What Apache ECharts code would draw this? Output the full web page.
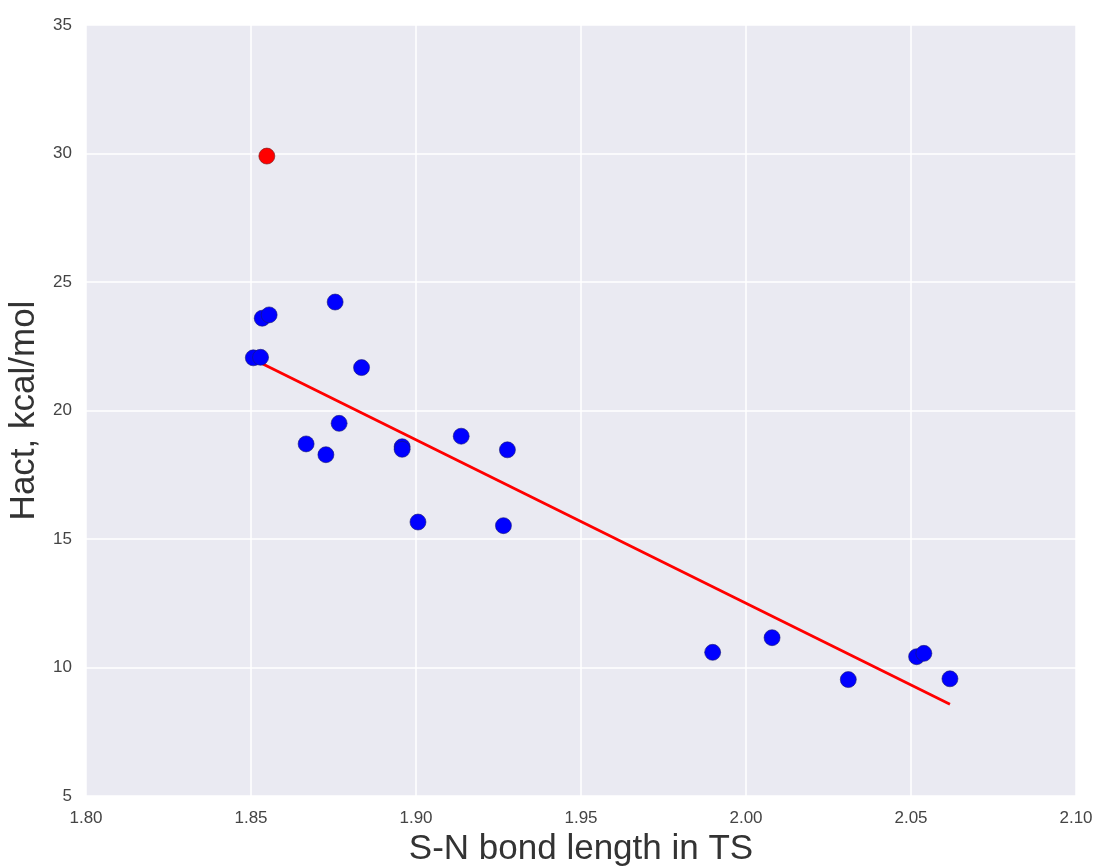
<!DOCTYPE html>
<html>
<head>
<meta charset="utf-8">
<script src="https://cdn.jsdelivr.net/npm/echarts@6/dist/echarts.min.js"></script>
<style>
  html, body { margin: 0; padding: 0; background: #fff; }
  #chart { width: 1099px; height: 866px; }
</style>
</head>
<body>
<div id="chart"></div>
<script>
// bond length (x) vs activation enthalpy (y)
const bondLength = [1.8534, 1.8555, 1.8755, 1.8507, 1.8529, 1.8835, 1.8767, 1.8667, 1.8727,
  1.8958, 1.8958, 1.9137, 1.9277, 1.9006, 1.9265, 1.9899, 2.0079, 2.0310, 2.0517, 2.0539, 2.0618];
const hact = [23.59, 23.72, 24.22, 22.05, 22.07, 21.67, 19.50, 18.70, 18.28,
  18.59, 18.49, 19.00, 18.47, 15.66, 15.52, 10.59, 11.16, 9.53, 10.42, 10.55, 9.56];

// the outlier drawn in red
const outlierX = [1.8548];
const outlierY = [29.90];

// fit line end points
const fitX = [1.8507, 2.0618];
const fitY = [21.99, 8.57];

const xTicks = { min: 1.80, max: 2.10, step: 0.05 };
const yTicks = { min: 5, max: 35, step: 5 };

const zip = (xs, ys) => xs.map((x, i) => [x, ys[i]]);

const chart = echarts.init(document.getElementById('chart'));
const tickFont = { fontFamily: 'Liberation Sans, Arial, sans-serif', fontSize: 17, color: '#444' };

chart.setOption({
  animation: false,
  backgroundColor: '#fff',
  grid: {
    left: 86, right: 23, top: 25, bottom: 70,
    outerBoundsMode: 'none', containLabel: false,
    show: true, backgroundColor: '#EAEAF2', borderWidth: 0
  },
  xAxis: {
    type: 'value',
    min: xTicks.min, max: xTicks.max, interval: xTicks.step,
    name: 'S-N bond length in TS',
    nameLocation: 'middle',
    nameGap: 34,
    nameTextStyle: { fontFamily: 'Liberation Sans, Arial, sans-serif', fontSize: 35, color: '#333' },
    axisLine: { show: false },
    axisTick: { show: false },
    axisLabel: Object.assign({ margin: 14, formatter: v => v.toFixed(2) }, tickFont),
    splitLine: { show: true, lineStyle: { color: '#fff', width: 1.5 } }
  },
  yAxis: {
    type: 'value',
    min: yTicks.min, max: yTicks.max, interval: yTicks.step,
    name: 'Hact, kcal/mol',
    nameLocation: 'middle',
    nameGap: 44,
    nameTextStyle: { fontFamily: 'Liberation Sans, Arial, sans-serif', fontSize: 35, color: '#333' },
    axisLine: { show: false },
    axisTick: { show: false },
    axisLabel: Object.assign({ margin: 14 }, tickFont),
    splitLine: { show: true, lineStyle: { color: '#fff', width: 1.5 } }
  },
  series: [
    {
      type: 'line',
      data: zip(fitX, fitY),
      showSymbol: false,
      lineStyle: { color: '#ff0000', width: 2.8 },
      z: 1
    },
    {
      type: 'scatter',
      data: zip(bondLength, hact),
      symbolSize: 16,
      itemStyle: { color: '#0000ff', borderColor: '#1a1a6e', borderWidth: 0.6, opacity: 1 },
      z: 2
    },
    {
      type: 'scatter',
      data: zip(outlierX, outlierY),
      symbolSize: 16,
      itemStyle: { color: '#ff0000', borderColor: '#6e1a1a', borderWidth: 0.6, opacity: 1 },
      z: 2
    }
  ]
});
</script>
</body>
</html>
